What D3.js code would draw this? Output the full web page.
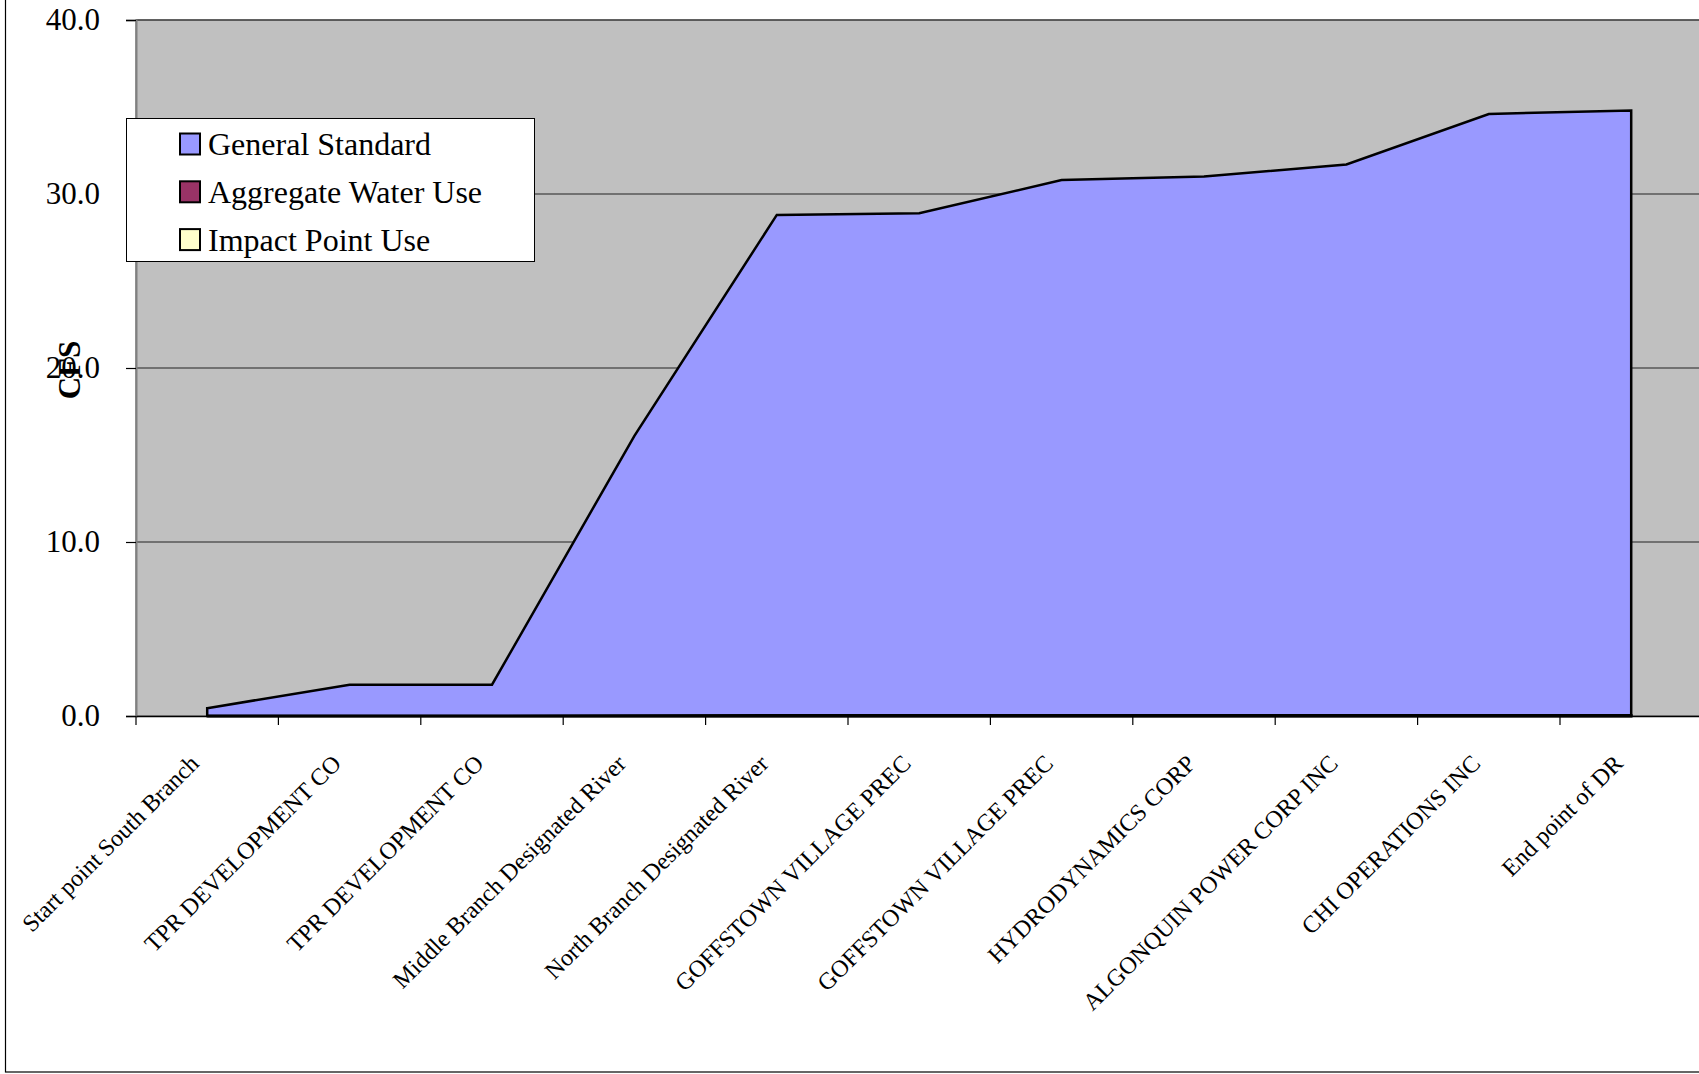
<!DOCTYPE html>
<html>
<head>
<meta charset="utf-8">
<script src="https://cdn.jsdelivr.net/npm/d3@7"></script>
<style>
html,body{margin:0;padding:0;background:#fff;overflow:hidden;}
svg{display:block;font-family:"Liberation Serif","Times New Roman",serif;}
</style>
</head>
<body>
<svg id="chart" width="1699" height="1074"></svg>
<script>
const categories = ["Start point South Branch","TPR DEVELOPMENT CO","TPR DEVELOPMENT CO","Middle Branch Designated River","North Branch Designated River","GOFFSTOWN VILLAGE PREC","GOFFSTOWN VILLAGE PREC","HYDRODYNAMICS CORP","ALGONQUIN POWER CORP INC","CHI OPERATIONS INC","End point of DR"];
const generalStandard = [0.45, 1.8, 1.8, 16.1, 28.8, 28.9, 30.8, 31.0, 31.7, 34.6, 34.8];
const aggregateWaterUse = [0, 0, 0, 0.02, 0.04, 0.04, 0.04, 0.04, 0.04, 0.04, 0.04];
const impactPointUse = [0, 0, 0, 0.01, 0.02, 0.02, 0.02, 0.02, 0.02, 0.02, 0.02];
const yTicks = [0, 10, 20, 30, 40];
const seriesNames = ["General Standard","Aggregate Water Use","Impact Point Use"];
const seriesColors = ["#9999FF","#993366","#FFFFCC"];
const yTitle = "CFS";

(function(){
const svg = d3.select("#chart");
const pLeft = 136, pTop = 20, pBottom = 716, band = 142.4;
const pRight = pLeft + band * categories.length;

const x = d3.scaleBand().domain(d3.range(categories.length)).range([pLeft, pRight]).padding(0);
const y = d3.scaleLinear().domain([0, 40]).range([pBottom, pTop]);
const cx = i => x(i) + x.bandwidth() / 2;

// outer chart border
svg.append("rect").attr("x", 5.5).attr("y", -10).attr("width", 1720).attr("height", 1082)
  .attr("fill", "none").attr("stroke", "#000").attr("stroke-width", 1.2);

// plot area
svg.append("rect").attr("x", pLeft).attr("y", pTop).attr("width", pRight - pLeft).attr("height", pBottom - pTop)
  .attr("fill", "#C0C0C0").attr("stroke", "#808080").attr("stroke-width", 1.5);

// gridlines
svg.append("g").selectAll("line").data(yTicks.filter(d => d > 0)).join("line")
  .attr("x1", pLeft).attr("x2", pRight).attr("y1", d => y(d)).attr("y2", d => y(d))
  .attr("stroke", "#222").attr("stroke-width", 1);

// areas
const seriesData = [generalStandard, aggregateWaterUse, impactPointUse];
seriesData.forEach((vals, k) => {
  const area = d3.area().x(d => d[0]).y0(y(0)).y1(d => d[1]);
  const pts = vals.map((v, i) => [cx(i), y(v)]);
  svg.append("path")
    .attr("d", area(pts))
    .attr("fill", seriesColors[k]).attr("stroke", "#000").attr("stroke-width", 2.5)
    .attr("stroke-linejoin", "miter");
});

// left axis
const yAxis = d3.axisLeft(y).tickValues(yTicks).tickFormat(d3.format(".1f")).tickSize(10).tickPadding(26);
const gy = svg.append("g").attr("transform", `translate(${pLeft},0)`).call(yAxis);
gy.select(".domain").attr("stroke", "#808080").attr("stroke-width", 2);
gy.selectAll(".tick line").attr("stroke", "#000").attr("stroke-width", 1.2);
gy.selectAll("text").attr("font-size", 31).attr("fill", "#000").attr("font-family", "Liberation Serif");

// bottom axis
const xAxis = d3.axisBottom(x).tickSize(0).tickFormat(i => categories[i]);
const gx = svg.append("g").attr("transform", `translate(0,${pBottom})`).call(xAxis);
gx.select(".domain").attr("stroke", "#000").attr("stroke-width", 1.5);
gx.selectAll(".tick text")
  .attr("font-size", 24).attr("fill", "#000").attr("font-family", "Liberation Serif")
  .attr("text-anchor", "end").attr("dy", null).attr("y", null)
  .attr("transform", "translate(-7,49) rotate(-45)");
// band boundary ticks
svg.append("g").selectAll("line").data(d3.range(categories.length + 1)).join("line")
  .attr("x1", i => pLeft + i * band).attr("x2", i => pLeft + i * band)
  .attr("y1", pBottom).attr("y2", pBottom + 9).attr("stroke", "#000").attr("stroke-width", 1.2);

// y title
svg.append("text").attr("transform", "translate(80,370) rotate(-90)")
  .attr("text-anchor", "middle").attr("font-size", 31).attr("font-weight", "bold").text(yTitle);

// legend
const lg = svg.append("g");
lg.append("rect").attr("x", 126.5).attr("y", 118.5).attr("width", 408).attr("height", 143)
  .attr("fill", "#fff").attr("stroke", "#000").attr("stroke-width", 1);
seriesNames.forEach((n, k) => {
  const cy = 144 + k * 47.8;
  lg.append("rect").attr("x", 180).attr("y", cy - 10.5).attr("width", 20).attr("height", 21)
    .attr("fill", seriesColors[k]).attr("stroke", "#000").attr("stroke-width", 2);
  lg.append("text").attr("x", 208).attr("y", cy).attr("dy", "0.35em")
    .attr("font-size", 32).text(n);
});
})();
</script>
</body>
</html>
